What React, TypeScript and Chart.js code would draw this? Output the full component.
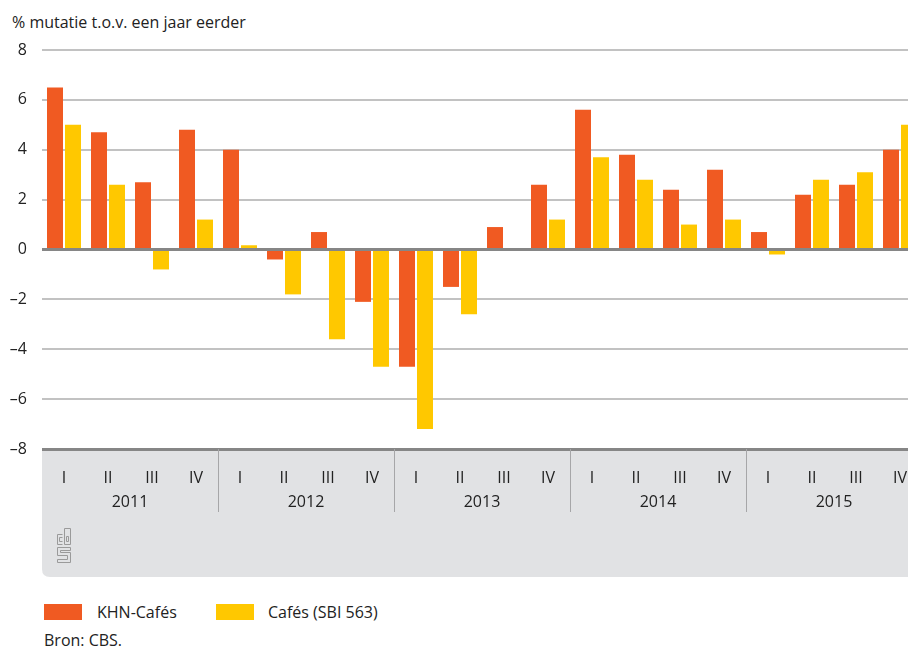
import React, { useEffect, useRef } from "react";
import { Chart, registerables } from "chart.js";

Chart.register(...registerables);

const quarters = ["I", "II", "III", "IV", "I", "II", "III", "IV", "I", "II", "III", "IV", "I", "II", "III", "IV", "I", "II", "III", "IV"];
const years = ["2011", "2012", "2013", "2014", "2015"];
const khnCafes = [6.5, 4.7, 2.7, 4.8, 4.0, -0.4, 0.7, -2.1, -4.7, -1.5, 0.9, 2.6, 5.6, 3.8, 2.4, 3.2, 0.7, 2.2, 2.6, 4.0];
const cafesSbi = [5.0, 2.6, -0.8, 1.2, 0.17, -1.8, -3.6, -4.7, -7.2, -2.6, 0, 1.2, 3.7, 2.8, 1.0, 1.2, -0.2, 2.8, 3.1, 5.0];
const yTicks = [-8, -6, -4, -2, 0, 2, 4, 6, 8];

const seriesNames = ["KHN-Cafés", "Cafés (SBI 563)"];
const ORANGE = "#f05a22";
const YELLOW = "#ffc800";
const FONT = "'Open Sans', sans-serif";
const TEXT = "#222";

const axisAreaPlugin = {
  id: "axisArea",
  beforeDraw(chart: any) {
    const { ctx, chartArea } = chart;
    const top = chartArea.bottom;
    const bottom = top + 128;
    ctx.save();
    ctx.fillStyle = "#e1e2e4";
    const r = 8;
    const left = chartArea.left;
    const right = chart.width;
    ctx.beginPath();
    ctx.moveTo(left, top);
    ctx.lineTo(right, top);
    ctx.lineTo(right, bottom);
    ctx.lineTo(left + r, bottom);
    ctx.quadraticCurveTo(left, bottom, left, bottom - r);
    ctx.closePath();
    ctx.fill();
    ctx.restore();
  },
  afterDraw(chart: any) {
    const { ctx, chartArea } = chart;
    const x = chart.scales.x;
    const top = chartArea.bottom;
    ctx.save();
    ctx.strokeStyle = "#a6a6a8";
    ctx.lineWidth = 1;
    for (let i = 4; i < quarters.length; i += 4) {
      const px = Math.round((x.getPixelForValue(i - 1) + x.getPixelForValue(i)) / 2) + 0.5;
      ctx.beginPath();
      ctx.moveTo(px, top);
      ctx.lineTo(px, top + 63);
      ctx.stroke();
    }
    ctx.fillStyle = TEXT;
    ctx.font = "16px " + FONT;
    ctx.textAlign = "center";
    ctx.textBaseline = "middle";
    years.forEach((yr, j) => {
      const px = (x.getPixelForValue(j * 4) + x.getPixelForValue(j * 4 + 3)) / 2;
      ctx.fillText(yr, px, top + 53);
    });
    // cbs logo
    ctx.strokeStyle = "#9a9a9a";
    ctx.lineWidth = 1;
    const lx = 57.5, ly = 528.5;
    ctx.beginPath();
    // c
    ctx.moveTo(lx + 5, ly + 6); ctx.lineTo(lx, ly + 6); ctx.lineTo(lx, ly + 16); ctx.lineTo(lx + 5, ly + 16);
    ctx.moveTo(lx + 5, ly + 9); ctx.lineTo(lx + 2, ly + 9); ctx.lineTo(lx + 2, ly + 13); ctx.lineTo(lx + 5, ly + 13);
    // b
    ctx.rect(lx + 7, ly, 6, 16);
    ctx.rect(lx + 9, ly + 8, 2, 5);
    // S
    ctx.moveTo(lx + 13, ly + 19); ctx.lineTo(lx, ly + 19); ctx.lineTo(lx, ly + 27); ctx.lineTo(lx + 10, ly + 27); ctx.lineTo(lx + 10, ly + 31); ctx.lineTo(lx, ly + 31); ctx.lineTo(lx, ly + 34); ctx.lineTo(lx + 13, ly + 34); ctx.lineTo(lx + 13, ly + 24); ctx.lineTo(lx + 3, ly + 24); ctx.lineTo(lx + 3, ly + 22); ctx.lineTo(lx + 13, ly + 22); ctx.closePath();
    ctx.stroke();
    ctx.restore();
  },
};

export default function App() {
  const ref = useRef<HTMLCanvasElement>(null);
  useEffect(() => {
    if (!ref.current) return;
    const chart = new Chart(ref.current, {
      type: "bar",
      data: {
        labels: quarters,
        datasets: [
          { label: seriesNames[0], data: khnCafes, backgroundColor: ORANGE, categoryPercentage: 0.818, barPercentage: 0.889 },
          { label: seriesNames[1], data: cafesSbi, backgroundColor: YELLOW, categoryPercentage: 0.818, barPercentage: 0.889 },
        ],
      },
      options: {
        animation: false,
        responsive: false,
        maintainAspectRatio: false,
        layout: { padding: { top: 50, right: 8, bottom: 13, left: 0 } },
        plugins: { legend: { display: false }, tooltip: { enabled: false } },
        scales: {
          x: {
            grid: { display: false },
            border: { display: false },
            ticks: { color: TEXT, font: { size: 16, family: FONT }, padding: 12, maxRotation: 0, autoSkip: false },
            afterFit(scale: any) { scale.height = 128; },
          },
          y: {
            min: -8,
            max: 8,
            afterBuildTicks(scale: any) { scale.ticks = yTicks.map((v) => ({ value: v })); },
            grid: {
              drawTicks: false,
              color: (c: any) => (c.tick && (c.tick.value === 0 || c.tick.value === -8) ? "#868686" : "#c2c2c2"),
              lineWidth: (c: any) => (c.tick && (c.tick.value === 0 || c.tick.value === -8) ? 3 : 2),
            },
            border: { display: false },
            ticks: {
              color: TEXT,
              font: { size: 16, family: FONT },
              padding: 15,
              callback: (v: any) => (Number(v) < 0 ? "–" + Math.abs(Number(v)) : String(v)),
            },
            afterFit(scale: any) { scale.width = 42; },
          },
        },
      },
      plugins: [axisAreaPlugin],
    });
    return () => chart.destroy();
  }, []);

  const legendItem = (color: string, label: string, left: number, textLeft: number) => (
    <>
      <div style={{ position: "absolute", left, top: 604, width: 38, height: 16, background: color }} />
      <div style={{ position: "absolute", left: textLeft, top: 601, fontSize: 16, lineHeight: "22px", color: TEXT }}>{label}</div>
    </>
  );

  return (
    <div style={{ position: "fixed", left: 0, top: 0, width: 908, height: 650, overflow: "hidden", background: "#fff", fontFamily: FONT }}>
      <div style={{ position: "absolute", left: 12, top: 11, fontSize: 16, lineHeight: "22px", color: TEXT }}>% mutatie t.o.v. een jaar eerder</div>
      <canvas ref={ref} width={930} height={590} style={{ position: "absolute", left: 0, top: 0, width: 930, height: 590 }} />
      {legendItem(ORANGE, seriesNames[0], 44, 97)}
      {legendItem(YELLOW, seriesNames[1], 216, 268)}
      <div style={{ position: "absolute", left: 44, top: 629, fontSize: 16, lineHeight: "22px", color: TEXT }}>Bron: CBS.</div>
    </div>
  );
}
